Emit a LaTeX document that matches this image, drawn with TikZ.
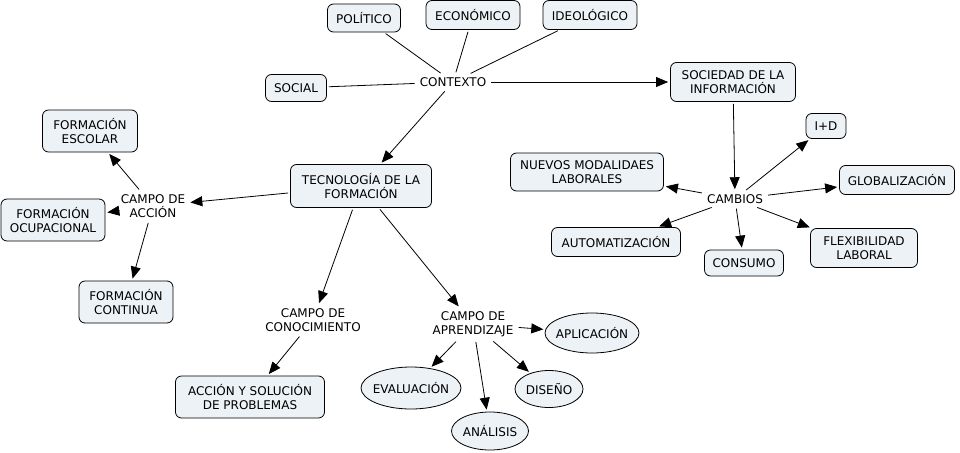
\documentclass[tikz,border=0pt]{standalone}
\usepackage{fontspec}
\setmainfont{DejaVu Sans}
\usetikzlibrary{arrows.meta,shapes.geometric}
\definecolor{boxfill}{RGB}{236,242,246}
\tikzset{
  concept/.style={draw=black,fill=boxfill,rounded corners=6pt,align=center,inner xsep=0pt,inner ysep=0pt,line width=0.8pt},
  oval/.style={draw=black,fill=boxfill,ellipse,align=center,inner xsep=-10pt,inner ysep=-4pt,line width=0.8pt},
  linkw/.style={align=center,fill=white,inner sep=3pt},
  plain/.style={line width=0.8pt,shorten >=2pt,shorten <=2pt},
  arr/.style={plain,-{Triangle[length=12pt,width=10pt]}}
}
\begin{document}
\begin{tikzpicture}[x=1pt,y=-1pt,font=\fontsize{12}{14.5}\selectfont]
\useasboundingbox[fill=white] (0,0) rectangle (960,452);
% concepts
\node[concept,minimum width=73pt,minimum height=28pt] (pol) at (364,18) {POLÍTICO};
\node[concept,minimum width=94pt,minimum height=29pt] (eco) at (473,15) {ECONÓMICO};
\node[concept,minimum width=94pt,minimum height=29pt] (ideo) at (590,15) {IDEOLÓGICO};
\node[concept,minimum width=61pt,minimum height=27pt] (soc) at (296,88) {SOCIAL};
\node[linkw] (ctx) at (453,82) {CONTEXTO};
\node[concept,minimum width=125pt,minimum height=39pt] (sdi) at (733,82) {SOCIEDAD DE LA\\INFORMACIÓN};
\node[concept,minimum width=40pt,minimum height=25pt] (id) at (826,126) {I+D};
\node[concept,minimum width=153pt,minimum height=38pt] (nml) at (587,172) {NUEVOS MODALIDAES\\LABORALES};
\node[concept,minimum width=115pt,minimum height=29pt] (glo) at (897,180) {GLOBALIZACIÓN};
\node[linkw] (camb) at (735,199) {CAMBIOS};
\node[concept,minimum width=129pt,minimum height=29pt] (aut) at (616,242) {AUTOMATIZACIÓN};
\node[concept,minimum width=79pt,minimum height=26pt] (cons) at (744,263) {CONSUMO};
\node[concept,minimum width=107pt,minimum height=39pt] (flex) at (864,248) {FLEXIBILIDAD\\LABORAL};
\node[concept,minimum width=95pt,minimum height=42pt] (fesc) at (90,131) {FORMACIÓN\\ESCOLAR};
\node[concept,minimum width=141pt,minimum height=43pt] (tec) at (361,186) {TECNOLOGÍA DE LA\\FORMACIÓN};
\node[linkw] (cacc) at (153,206) {CAMPO DE\\ACCIÓN};
\node[concept,minimum width=104pt,minimum height=42pt] (focu) at (53,220) {FORMACIÓN\\OCUPACIONAL};
\node[concept,minimum width=94pt,minimum height=42pt] (fcon) at (126,302) {FORMACIÓN\\CONTINUA};
\node[linkw] (ccon) at (313,320) {CAMPO DE\\CONOCIMIENTO};
\node[linkw] (capr) at (473,324) {CAMPO DE\\APRENDIZAJE};
\node[concept,minimum width=149pt,minimum height=42pt] (acc) at (250,397) {ACCIÓN Y SOLUCIÓN\\DE PROBLEMAS};
\node[oval,minimum width=94pt,minimum height=40pt] (apl) at (592,333) {APLICACIÓN};
\node[oval,minimum width=100pt,minimum height=42pt] (eva) at (411,388) {EVALUACIÓN};
\node[oval,minimum width=68pt,minimum height=37pt] (dis) at (549,389) {DISEÑO};
\node[oval,minimum width=77pt,minimum height=38pt] (ana) at (490,431) {ANÁLISIS};
% connectors
\draw[plain] (pol) -- (ctx);
\draw[plain] (eco) -- (ctx);
\draw[plain] (ideo) -- (ctx);
\draw[plain] (soc) -- (ctx);
\draw[arr] (ctx) -- (sdi);
\draw[arr] (ctx) -- (tec);
\draw[arr] (sdi) -- (camb);
\draw[arr] (camb) -- (id);
\draw[arr] (camb) -- (nml);
\draw[arr] (camb) -- (glo);
\draw[arr] (camb) -- (aut);
\draw[arr] (camb) -- (cons);
\draw[arr] (camb) -- (flex);
\draw[arr] (tec) -- (cacc);
\draw[arr] (cacc) -- (fesc);
\draw[arr] (cacc) -- (focu);
\draw[arr] (cacc) -- (fcon);
\draw[arr] (tec) -- (ccon);
\draw[arr] (tec) -- (capr);
\draw[arr] (ccon) -- (acc);
\draw[arr] (capr) -- (apl);
\draw[arr] (capr) -- (eva);
\draw[arr] (capr) -- (dis);
\draw[arr] (capr) -- (ana);
\end{tikzpicture}
\end{document}
